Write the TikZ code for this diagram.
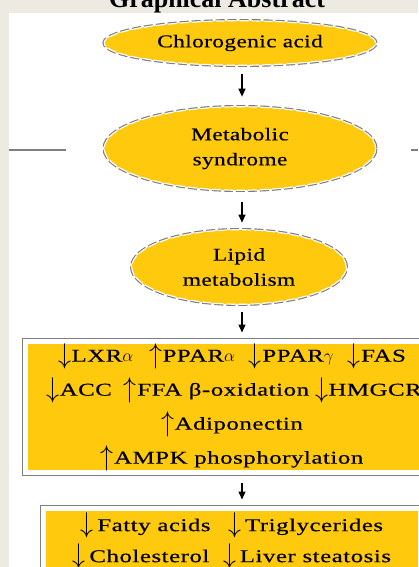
\documentclass[tikz,border=0pt]{standalone}
\usepackage{fontspec}
\setmainfont{Liberation Serif}
\newfontfamily\lblfont[FakeStretch=1.3,FakeBold=0.4,LetterSpace=2]{Liberation Serif}
\newfontfamily\boxfont[FakeStretch=1.38,FakeBold=0.4,LetterSpace=3]{Liberation Serif}
\usetikzlibrary{shapes.geometric,arrows.meta}
\definecolor{ybg}{HTML}{FFC90E}
\definecolor{beige}{HTML}{ECEAE1}
\definecolor{edge}{HTML}{7F7F7F}
\newcommand{\dnar}{\raisebox{-1.5pt}{\scalebox{1.5}[1.65]{$\downarrow$}}\kern0.5pt}
\newcommand{\upar}{\raisebox{-1.5pt}{\scalebox{1.5}[1.65]{$\uparrow$}}\kern0.5pt}
\begin{document}
\begin{tikzpicture}[x=1pt,y=-1pt,
  oval/.style={ellipse, fill=ybg, draw=white, line width=1.2pt,
    dash pattern=on 9pt off 3pt, preaction={draw=edge, line width=3.5pt},
    inner sep=0pt, align=center, font=\lblfont\fontsize{18}{25}\selectfont},
  panel/.style={rectangle, fill=ybg, draw=white, line width=5pt,
    preaction={draw=edge, line width=7pt}, inner sep=0pt, align=center},
  arr/.style={line width=1.3pt, -{Triangle[width=7pt,length=8pt]}},
  sideline/.style={draw=edge, line width=2pt}]
\useasboundingbox (0,0) rectangle (418,567);
\fill[beige] (0,0) rectangle (418,567);
\node[font=\bfseries\fontsize{26}{26}\selectfont, anchor=base, inner sep=0pt] (title) at (217,8) {Graphical Abstract};
\fill[white] (9,13) rectangle (418,567);

\node[oval, minimum width=271.5pt, minimum height=44.5pt] (e1) at (240,43) {Chlorogenic acid};
\node[oval, minimum width=271.5pt, minimum height=83.5pt] (e2) at (240,148.5) {Metabolic\\syndrome};
\node[oval, minimum width=214.5pt, minimum height=74.5pt] (e3) at (239,267) {Lipid\\metabolism};

\node[panel, minimum width=413pt, minimum height=131pt,
  font=\boxfont\fontsize{18}{34}\selectfont] (b1) at (232,407)
  {\dnar LXR$\alpha$\hspace{16pt}\upar PPAR$\alpha$\hspace{14pt}\dnar PPAR$\gamma$\hspace{14pt}\dnar FAS\\
   \hspace{4pt}\dnar ACC\hspace{12pt}\upar FFA β-oxidation\hspace{6pt}\dnar HMGCR\\
   \upar Adiponectin\\
   \upar AMPK phosphorylation};
\node[panel, minimum width=377pt, minimum height=65pt,
  font=\boxfont\fontsize{18}{31}\selectfont] (b2) at (232,541)
  {\dnar\kern3pt Fatty acids\hspace{18pt}\dnar\kern3pt Triglycerides\\
   \dnar\kern3pt Cholesterol\hspace{14pt}\dnar\kern3pt Liver steatosis};

\coordinate (ax) at (242,0);
\draw[arr, shorten <=8.5pt, shorten >=9.5pt] (e1.south -| ax) -- (e2.north -| ax);
\draw[arr, shorten <=11.5pt, shorten >=6.5pt] (e2.south -| ax) -- (e3.north -| ax);
\draw[arr, shorten <=7.5pt, shorten >=6.5pt] (e3.south -| ax) -- (b1.north -| ax);
\draw[arr, shorten <=7.5pt, shorten >=6.5pt] (b1.south -| ax) -- (b2.north -| ax);

\coordinate (l1) at (9,150);
\coordinate (l2) at (66,150);
\coordinate (r1) at (411,150);
\coordinate (r2) at (418,150);
\draw[sideline] (l1) -- (l2);
\draw[sideline] (r1) -- (r2);
\end{tikzpicture}
\end{document}
